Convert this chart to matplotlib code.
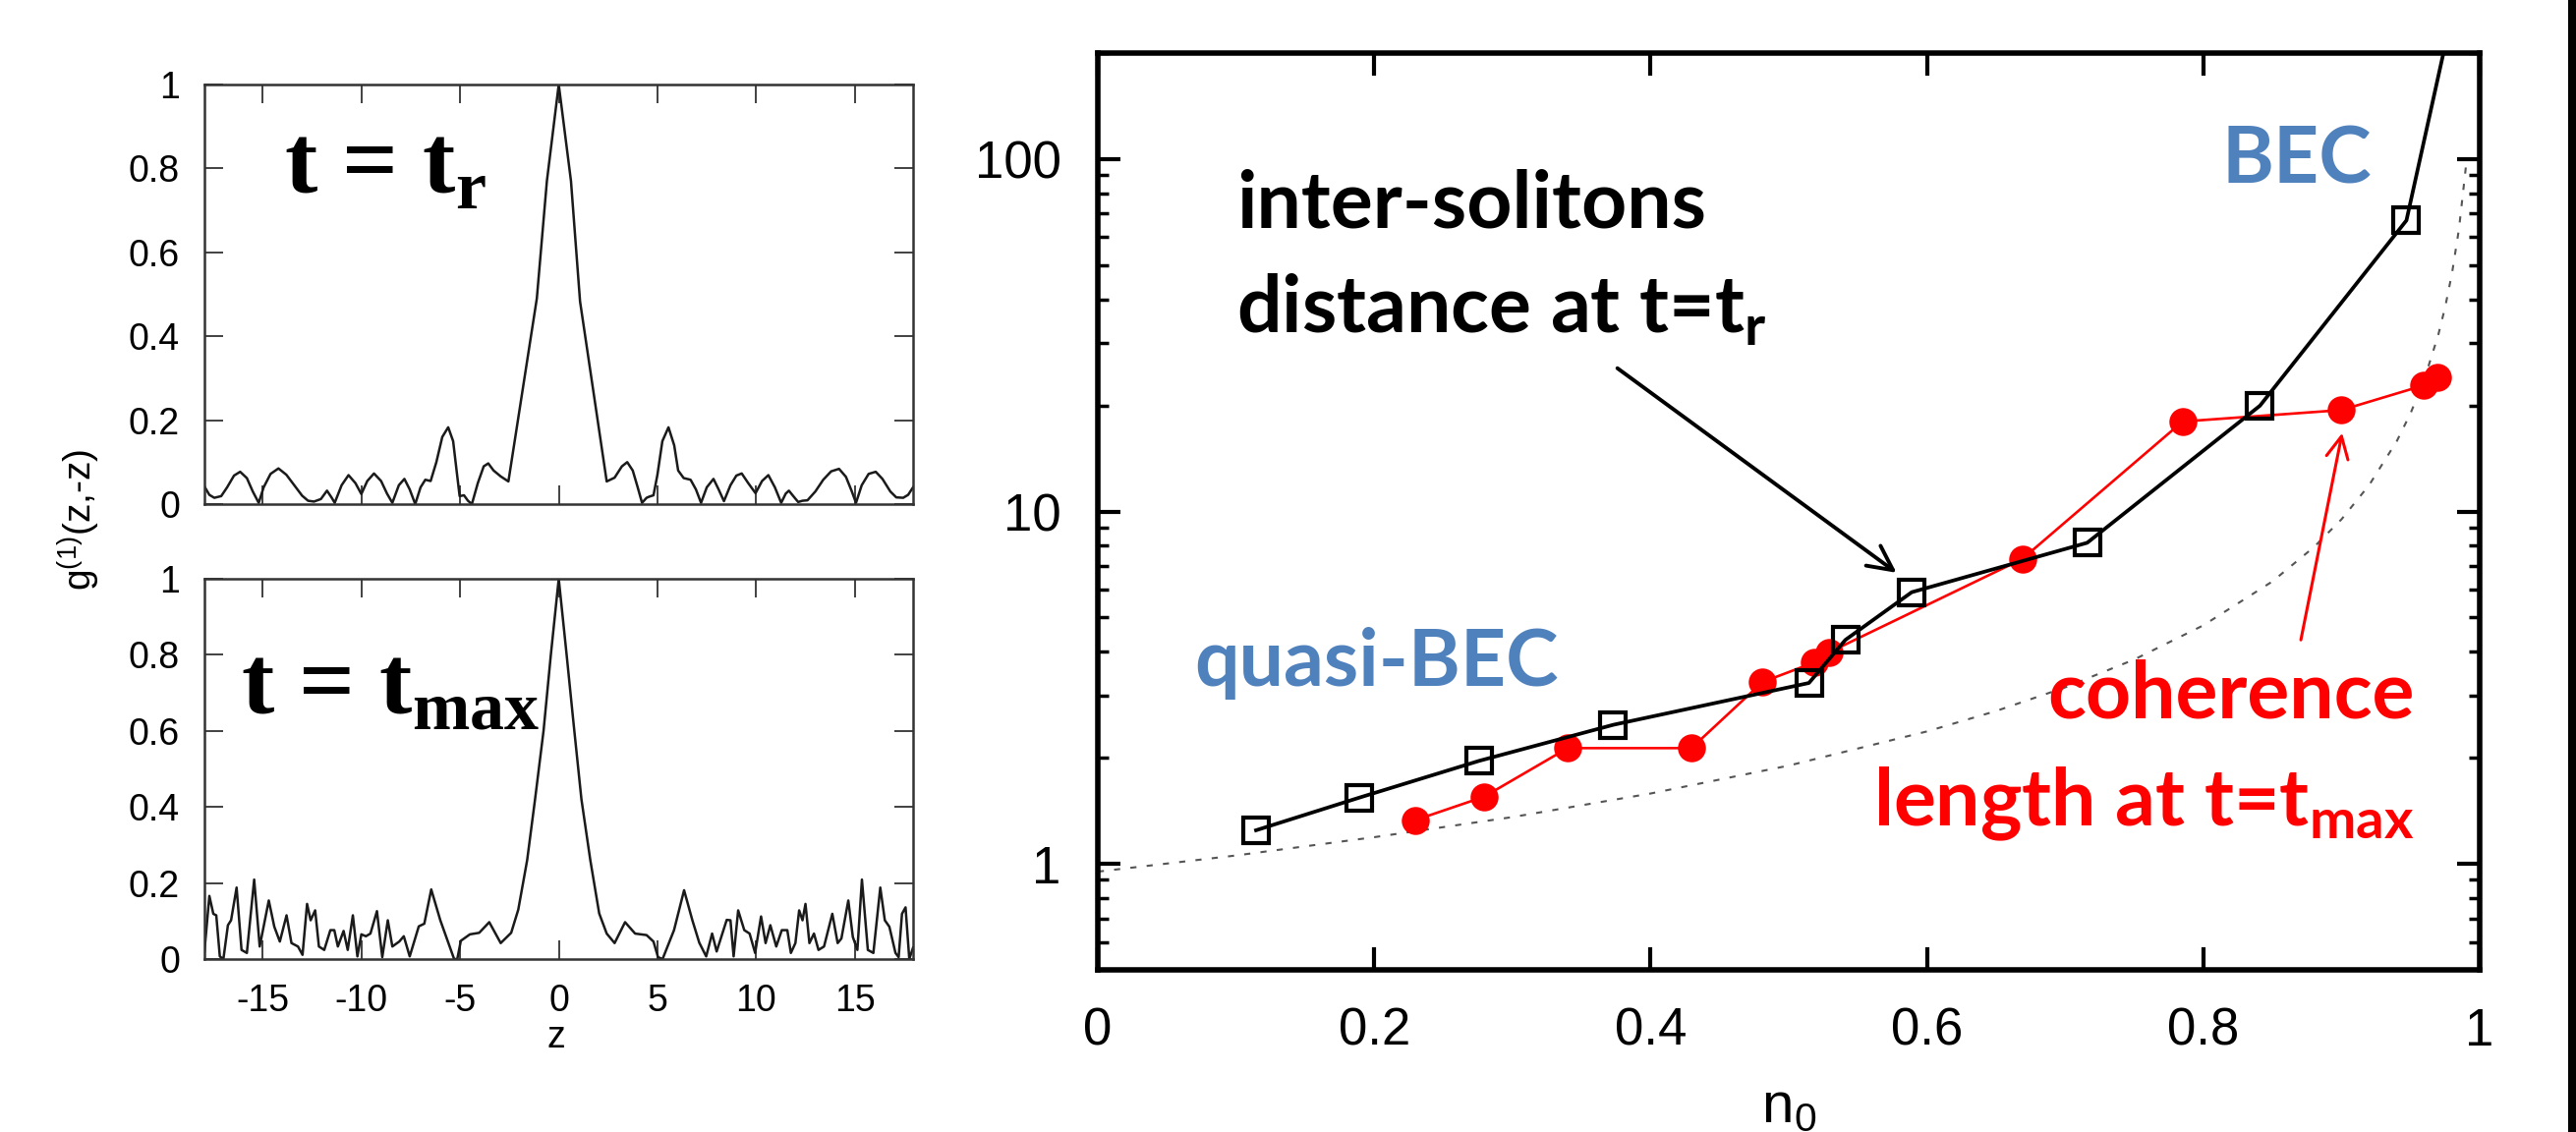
import matplotlib
matplotlib.use("Agg")
import matplotlib.pyplot as plt
from matplotlib.ticker import FixedLocator, FixedFormatter
from matplotlib.patches import Rectangle

plt.rcParams['font.family'] = ['Liberation Sans', 'DejaVu Sans']
plt.rcParams['mathtext.fontset'] = 'custom'
plt.rcParams['mathtext.rm'] = 'Liberation Sans'
plt.rcParams['axes.unicode_minus'] = False

# ---------------- data: left panels (g1(z,-z)) ----------------
z_tr = [-17.95, -17.7, -17.45, -17.1, -16.8, -16.45, -16.14, -15.8, -15.5, -15.2,
        -14.95, -14.6, -14.2, -13.8, -13.4, -13.0, -12.7, -12.4, -12.05, -11.74,
        -11.5, -11.35, -11.0, -10.65, -10.3, -10.0, -9.7, -9.36, -9.0, -8.7,
        -8.43, -8.1, -7.82, -7.55, -7.27, -7.0, -6.76, -6.49, -6.2, -5.9,
        -5.6, -5.35, -5.15, -5.02, -4.8, -4.6, -4.4, -4.1, -3.8, -3.57,
        -3.3, -2.94, -2.55, -1.11, -0.6, 0.0, 0.62, 1.08, 2.43, 2.83,
        3.2, 3.47, 3.75, 4.0, 4.22, 4.45, 4.6, 4.8, 5.0, 5.25,
        5.56, 5.85, 6.05, 6.33, 6.68, 6.95, 7.21, 7.5, 7.84, 8.1,
        8.37, 8.7, 9.0, 9.27, 9.6, 9.97, 10.3, 10.62, 10.95, 11.27,
        11.5, 11.66, 11.9, 12.13, 12.35, 12.6, 13.0, 13.4, 13.8, 14.2,
        14.55, 14.85, 15.06, 15.35, 15.7, 16.06, 16.4, 16.8, 17.1, 17.45,
        17.7, 17.95]
g_tr = [0.042, 0.022, 0.015, 0.019, 0.040, 0.068, 0.077, 0.062, 0.030, 0.003,
        0.040, 0.072, 0.085, 0.070, 0.045, 0.020, 0.008, 0.006, 0.012, 0.032,
        0.015, 0.003, 0.045, 0.069, 0.050, 0.024, 0.055, 0.073, 0.055, 0.025,
        0.003, 0.045, 0.060, 0.035, 0.000, 0.040, 0.058, 0.055, 0.100, 0.160,
        0.183, 0.150, 0.070, 0.019, 0.021, 0.008, 0.000, 0.050, 0.090, 0.097,
        0.080, 0.066, 0.054, 0.490, 0.770, 1.000, 0.770, 0.483, 0.054, 0.063,
        0.090, 0.100, 0.080, 0.040, 0.003, 0.015, 0.018, 0.021, 0.070, 0.150,
        0.183, 0.140, 0.080, 0.062, 0.058, 0.035, 0.003, 0.040, 0.060, 0.035,
        0.007, 0.045, 0.068, 0.073, 0.050, 0.026, 0.055, 0.069, 0.040, 0.003,
        0.025, 0.032, 0.018, 0.005, 0.008, 0.009, 0.030, 0.058, 0.078, 0.084,
        0.065, 0.030, 0.003, 0.045, 0.072, 0.077, 0.060, 0.030, 0.016, 0.015,
        0.022, 0.040]

z_tmax = [-17.95, -17.7, -17.5, -17.35, -17.17, -16.99, -16.76, -16.6, -16.32, -16.07,
          -15.8, -15.43, -15.15, -14.69, -14.41, -14.13, -13.79, -13.54, -13.21, -12.98,
          -12.75, -12.57, -12.34, -12.15, -11.88, -11.57, -11.37, -11.19, -10.9, -10.69,
          -10.43, -10.2, -10.0, -9.77, -9.54, -9.21, -8.94, -8.66, -8.43, -8.08,
          -7.85, -7.55, -7.09, -6.81, -6.46, -6.0, -5.3, -5.14, -4.96, -4.5,
          -4.03, -3.52, -2.94, -2.41, -2.05, -1.6, -1.2, -0.77, -0.4, 0.0,
          0.4, 0.75, 1.15, 1.6, 2.05, 2.43, 2.83, 3.36, 3.87, 4.45,
          4.8, 5.03, 5.26, 5.84, 6.35, 6.77, 7.12, 7.47, 7.77, 8.0,
          8.51, 8.7, 8.86, 9.09, 9.4, 9.67, 9.95, 10.25, 10.48, 10.72,
          11.02, 11.3, 11.58, 11.76, 11.99, 12.18, 12.35, 12.5, 12.7, 12.93,
          13.16, 13.44, 13.86, 14.13, 14.32, 14.67, 14.9, 15.13, 15.36, 15.66,
          15.94, 16.29, 16.52, 16.75, 17.06, 17.22, 17.39, 17.57, 17.76, 17.95]
g_tmax = [0.020, 0.166, 0.119, 0.115, 0.007, 0.000, 0.089, 0.102, 0.188, 0.024,
          0.016, 0.209, 0.033, 0.154, 0.085, 0.046, 0.115, 0.042, 0.033, 0.011,
          0.145, 0.102, 0.128, 0.033, 0.024, 0.076, 0.076, 0.033, 0.074, 0.024,
          0.115, 0.007, 0.065, 0.060, 0.067, 0.126, 0.005, 0.102, 0.033, 0.046,
          0.060, 0.007, 0.086, 0.093, 0.183, 0.102, 0.000, 0.000, 0.048, 0.065,
          0.069, 0.097, 0.042, 0.069, 0.130, 0.260, 0.420, 0.600, 0.800, 1.000,
          0.800, 0.620, 0.420, 0.260, 0.120, 0.067, 0.042, 0.097, 0.067, 0.063,
          0.046, 0.005, 0.000, 0.076, 0.181, 0.102, 0.043, 0.007, 0.067, 0.020,
          0.103, 0.102, 0.007, 0.128, 0.076, 0.067, 0.016, 0.112, 0.042, 0.089,
          0.033, 0.076, 0.076, 0.016, 0.042, 0.128, 0.102, 0.145, 0.042, 0.067,
          0.024, 0.033, 0.119, 0.042, 0.054, 0.154, 0.058, 0.024, 0.209, 0.024,
          0.016, 0.188, 0.102, 0.085, 0.016, 0.005, 0.119, 0.136, 0.000, 0.030]

# ---------------- data: right panel ----------------
n0_sol = [0.1145, 0.189, 0.276, 0.373, 0.5146, 0.541, 0.589, 0.716, 0.841, 0.947, 0.98]
d_sol = [1.245, 1.54, 1.96, 2.48, 3.26, 4.32, 5.9, 8.15, 19.96, 67.0, 258.0]

n0_coh = [0.2297, 0.2795, 0.340, 0.4296, 0.481, 0.5186, 0.529, 0.669, 0.785, 0.900, 0.9595, 0.9695]
l_coh = [1.33, 1.55, 2.13, 2.13, 3.28, 3.73, 3.98, 7.33, 18.0, 19.4, 22.8, 24.0]

n0_ref = [0.0, 0.1, 0.2, 0.3, 0.4, 0.5, 0.6, 0.65, 0.7, 0.75, 0.8, 0.85, 0.88,
          0.9, 0.92, 0.94, 0.95, 0.96, 0.97, 0.975, 0.98, 0.985, 0.99]
l_ref = [0.95, 1.056, 1.19, 1.357, 1.583, 1.9, 2.375, 2.714, 3.167, 3.8, 4.75, 6.33, 7.92,
         9.5, 11.88, 15.83, 19.0, 23.75, 31.67, 38.0, 47.5, 63.3, 95.0]

x_ticks_left = [-15, -10, -5, 0, 5, 10, 15]
y_ticks_left = [0, 0.2, 0.4, 0.6, 0.8, 1]
y_ticklabels_left = ['0', '0.2', '0.4', '0.6', '0.8', '1']
x_ticks_right = [0, 0.2, 0.4, 0.6, 0.8, 1]
x_ticklabels_right = ['0', '0.2', '0.4', '0.6', '0.8', '1']
y_ticks_right = [1, 10, 100]
y_ticklabels_right = ['1', '10', '100']
y_minor_right = [0.6, 0.7, 0.8, 0.9, 2, 3, 4, 5, 6, 7, 8, 9, 20, 30, 40, 50, 60, 70, 80, 90, 200]

W, H = 2621, 1152
fig = plt.figure(figsize=(W / 100, H / 100), dpi=100)

def fx(px):
    return px / W

def fy(py):
    return 1 - py / H

ax1 = fig.add_axes([fx(208), fy(513), fx(929) - fx(208), 427 / H])
ax2 = fig.add_axes([fx(208), fy(976), fx(929) - fx(208), 387 / H])
ax3 = fig.add_axes([fx(1117), fy(987), fx(2523) - fx(1117), 933 / H])

for ax, z, g in ((ax1, z_tr, g_tr), (ax2, z_tmax, g_tmax)):
    ax.plot(z, g, color='#1a1a1a', lw=1.8)
    ax.set_xlim(-17.95, 17.95)
    ax.set_ylim(0, 1)
    ax.set_xticks(x_ticks_left)
    ax.set_yticks(y_ticks_left)
    ax.set_yticklabels(y_ticklabels_left)
    ax.tick_params(direction='in', top=True, right=True, length=13.5, width=1.3,
                   color='#333333', labelsize=27, pad=18)
    for s in ax.spines.values():
        s.set_linewidth(1.8)
        s.set_color('#333333')
ax1.tick_params(labelbottom=False)
ax2.set_xlabel('z', fontsize=27)
ax2.xaxis.set_label_coords(0.4965, -0.16)

ax1.text(0.112, 0.742, r't = t$_\mathregular{r}$', transform=ax1.transAxes,
         family='Liberation Serif', weight='bold', fontsize=72, va='baseline', ha='left')
ax2.text(0.0513, 0.646, r't = t$_\mathregular{max}$', transform=ax2.transAxes,
         family='Liberation Serif', weight='bold', fontsize=72, va='baseline', ha='left')

fig.text(fx(80), fy(529), r'g$^{\mathregular{(1)}}$(z,-z)', rotation=90,
         ha='center', va='center', fontsize=28)

# right panel
ax3.plot(n0_ref, l_ref, color='#555555', lw=1.5, dashes=(3, 5), zorder=1)
ax3.plot(n0_coh, l_coh, color='#ff0000', lw=1.9, marker='o', ms=20.5,
         mfc='#ff0000', mec='#ff0000', mew=0, zorder=2)
ax3.plot(n0_sol, d_sol, color='black', lw=2.7, marker='s', ms=19,
         mfc='none', mec='black', mew=3, zorder=3)
ax3.set_yscale('log')
ax3.set_xlim(0, 1)
ax3.set_ylim(0.5, 200)
ax3.xaxis.set_major_locator(FixedLocator(x_ticks_right))
ax3.xaxis.set_major_formatter(FixedFormatter(x_ticklabels_right))
ax3.yaxis.set_major_locator(FixedLocator(y_ticks_right))
ax3.yaxis.set_major_formatter(FixedFormatter(y_ticklabels_right))
ax3.yaxis.set_minor_locator(FixedLocator(y_minor_right))
ax3.yaxis.set_minor_formatter(FixedFormatter([''] * len(y_minor_right)))
ax3.tick_params(which='major', direction='in', top=True, right=True, length=16.5,
                width=3, labelsize=38, pad=27)
ax3.tick_params(which='minor', direction='in', left=True, right=True, length=8, width=2.5)
for s in ax3.spines.values():
    s.set_linewidth(4)
ax3.set_xlabel(r'n$_\mathregular{0}$', fontsize=42)
ax3.xaxis.set_label_coords(0.5, -0.121)

tfont = dict(family='Lato', weight='bold', fontsize=58, va='baseline')
ax3.text(0.1003, 0.8098, 'inter-solitons', transform=ax3.transAxes, ha='left', color='black', **tfont)
ax3.text(0.1003, 0.6945, r'distance at t=t$_\mathregular{r}$', transform=ax3.transAxes,
         ha='left', color='black', **tfont)
ax3.text(0.8130, 0.8585, 'BEC', transform=ax3.transAxes, ha='left', color='#4f81bd', **tfont)
ax3.text(0.0697, 0.3098, 'quasi-BEC', transform=ax3.transAxes, ha='left', color='#4f81bd', **tfont)
ax3.text(0.953, 0.2744, 'coherence', transform=ax3.transAxes, ha='right', color='#ff0000', **tfont)
ax3.text(0.953, 0.1576, r'length at t=t$_\mathregular{max}$', transform=ax3.transAxes,
         ha='right', color='#ff0000', **tfont)

ax3.annotate('', xy=(0.578, 6.7), xytext=(0.376, 25.5),
             arrowprops=dict(arrowstyle='->', lw=2.8, color='black',
                             mutation_scale=45, shrinkA=0, shrinkB=0))
ax3.annotate('', xy=(0.9005, 16.7), xytext=(0.8706, 4.32),
             arrowprops=dict(arrowstyle='->', lw=2.2, color='#ff0000',
                             mutation_scale=40, shrinkA=0, shrinkB=0))

fig.add_artist(Rectangle((fx(2613), 0), fx(8), 1, transform=fig.transFigure,
                         color='black', lw=0))

fig.savefig('out.png', dpi=100)
